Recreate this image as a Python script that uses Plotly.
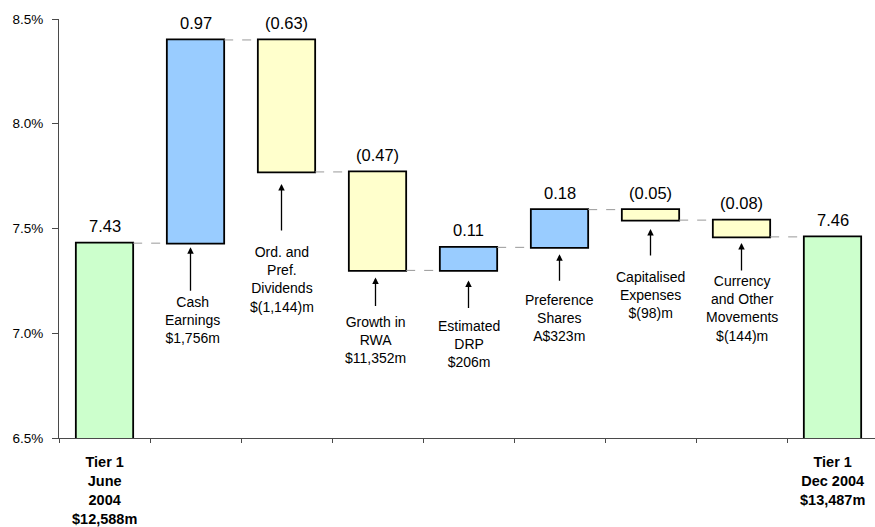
import plotly.graph_objects as go

# ---- data ----
categories = [
    "Tier 1<br>June<br>2004<br>$12,588m",
    "Cash<br>Earnings<br>$1,756m",
    "Ord. and<br>Pref.<br>Dividends<br>$(1,144)m",
    "Growth in<br>RWA<br>$11,352m",
    "Estimated<br>DRP<br>$206m",
    "Preference<br>Shares<br>A$323m",
    "Capitalised<br>Expenses<br>$(98)m",
    "Currency<br>and Other<br>Movements<br>$(144)m",
    "Tier 1<br>Dec 2004<br>$13,487m",
]
measures = ["absolute", "relative", "relative", "relative", "relative",
            "relative", "relative", "relative", "total"]
values = [7.43, 0.97, -0.63, -0.47, 0.11, 0.18, -0.05, -0.08, 7.46]
y_ticks = [6.5, 7.0, 7.5, 8.0, 8.5]
y_tick_text = ["6.5%", "7.0%", "7.5%", "8.0%", "8.5%"]

# ---- layout constants (pixels) ----
arrow_gap = [0, 4, 12, 7, 10, 7, 9, 6, 0]
arrow_len = [0, 49, 60, 37, 39, 35, 37, 35, 0]
text_off = [0, 59, 80, 52, 56, 53, 57, 44, 0]
arrow_dx = [0, -5, -5, -2, 0, 0, 0, 0, 0]
text_dx = [0, -3, -5, -2, 0, 0, 0, 0, 0]

FONT = "Arial, Liberation Sans, sans-serif"
AXIS_COL = "#4a4a4a"

x = list(range(len(values)))

# running totals
bottoms, tops = [], []
run = 0.0
for m, v in zip(measures, values):
    if m == "absolute":
        run = v
        bottoms.append(min(0, v)); tops.append(v)
    elif m == "total":
        bottoms.append(min(0, run)); tops.append(run)
    else:
        lo, hi = sorted([run, run + v])
        bottoms.append(lo); tops.append(hi)
        run += v


def fmt(v):
    return f"({abs(v):.2f})" if v < 0 else f"{v:.2f}"


bar_line = dict(color="black", width=1.8)
fig = go.Figure(go.Waterfall(
    x=x, y=values, measure=measures,
    width=0.63,
    textinfo="none",
    increasing=dict(marker=dict(color="#99CCFF", line=bar_line)),
    decreasing=dict(marker=dict(color="#FFFFCC", line=bar_line)),
    totals=dict(marker=dict(color="#CCFFCC", line=bar_line)),
    connector=dict(mode="between", line=dict(color="#999999", width=1, dash="dash")),
    hoverinfo="skip",
))

annotations = []
for i, v in enumerate(values):
    label_val = v if measures[i] != "total" else tops[i]
    annotations.append(dict(
        x=i, y=tops[i], xref="x", yref="y", text=fmt(label_val),
        showarrow=False, yanchor="bottom", yshift=6,
        font=dict(family=FONT, size=16.5, color="black"),
    ))
    if measures[i] == "relative":
        annotations.append(dict(
            x=i, y=bottoms[i], xref="x", yref="y", text="",
            showarrow=True, ax=0, ay=arrow_len[i], standoff=arrow_gap[i],
            arrowhead=2, arrowsize=1, arrowwidth=1.3, arrowcolor="black",
            xshift=arrow_dx[i],
        ))
        annotations.append(dict(
            x=i, y=bottoms[i], xref="x", yref="y", text=categories[i],
            showarrow=False, yanchor="top", yshift=-(text_off[i] - 10),
            xshift=text_dx[i],
            font=dict(family=FONT, size=14, color="black"),
        ))
    else:
        annotations.append(dict(
            x=i, y=0, xref="x", yref="paper", text="<b>" + categories[i] + "</b>",
            showarrow=False, yanchor="top", yshift=-14,
            font=dict(family=FONT, size=14.5, color="black"),
        ))

plot_w = 875 - 59
cat_px = 91.0
fig.update_layout(
    width=875, height=527,
    margin=dict(l=59, r=0, t=19, b=89),
    paper_bgcolor="white", plot_bgcolor="white",
    showlegend=False,
    annotations=annotations,
    font=dict(family=FONT, color="black"),
    xaxis=dict(
        range=[-0.5, -0.5 + plot_w / cat_px],
        tickvals=[i - 0.5 for i in range(len(values) + 1)],
        showticklabels=False, ticks="outside", ticklen=4, tickcolor=AXIS_COL,
        showline=True, linecolor=AXIS_COL, linewidth=1,
        showgrid=False, zeroline=False, fixedrange=True,
    ),
    yaxis=dict(
        range=[y_ticks[0], y_ticks[-1]],
        tickmode="array", tickvals=y_ticks, ticktext=y_tick_text,
        ticks="outside", ticklen=6, tickcolor=AXIS_COL,
        ticklabelstandoff=6,
        showline=True, linecolor=AXIS_COL, linewidth=1,
        showgrid=False, zeroline=False,
        tickfont=dict(family=FONT, size=13.5, color="black"),
        fixedrange=True,
    ),
)

fig.write_html("out.html")
